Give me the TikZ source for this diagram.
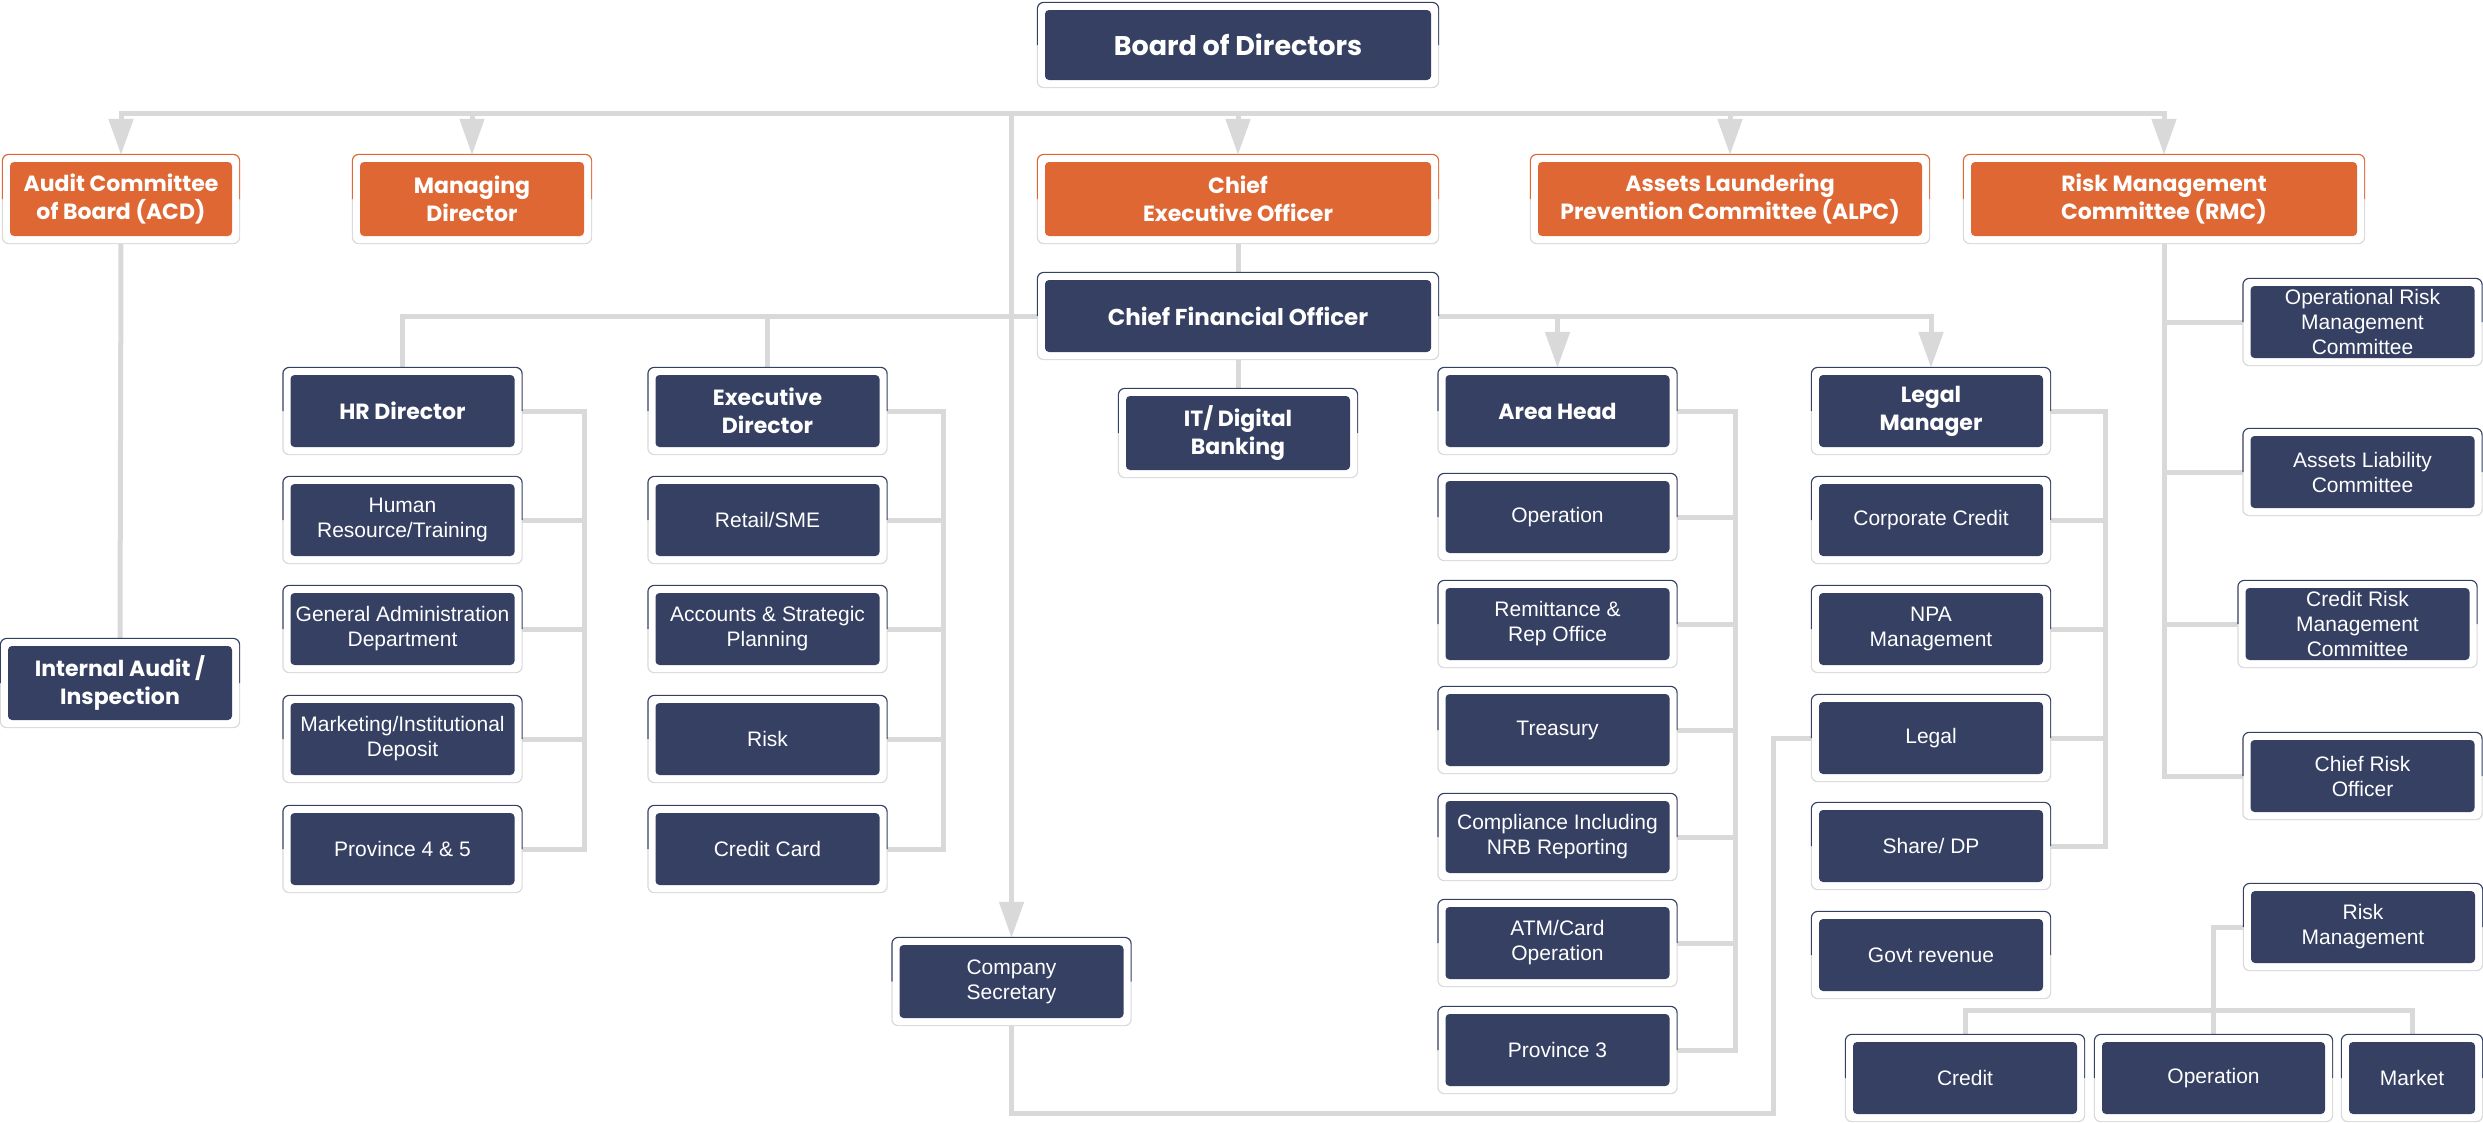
\documentclass[tikz,border=0pt]{standalone}
\usepackage{fontspec}
\newfontfamily\gothic{Poppins}
\newfontfamily\arial{Liberation Sans}
\usetikzlibrary{arrows.meta,backgrounds,calc}
\definecolor{navy}{HTML}{354062}
\definecolor{orng}{HTML}{DF6734}
\definecolor{lgray}{HTML}{D9D9D9}
\tikzset{
  orgbox/.style={rectangle, rounded corners=6pt, fill=white, inner sep=0pt, align=center, text=white,
    minimum width=238pt, minimum height=86pt,
    path picture={\fill[#1, rounded corners=4pt] ([shift={(7pt,7pt)}]path picture bounding box.south west) rectangle ([shift={(-7pt,-7pt)}]path picture bounding box.north east);},
    append after command={\pgfextra{
      \draw[lgray, line width=2pt, rounded corners=6pt] (\tikzlastnode.west) -- (\tikzlastnode.south west) -- (\tikzlastnode.south east) -- (\tikzlastnode.east);
      \draw[#1, line width=2pt, rounded corners=6pt] (\tikzlastnode.west) -- (\tikzlastnode.north west) -- (\tikzlastnode.north east) -- (\tikzlastnode.east);}}},
  nbox/.style={orgbox=navy},
  obox/.style={orgbox=orng},
  ttl/.style={font=\gothic\bfseries\fontsize{22}{28}\selectfont},
  big/.style={font=\gothic\bfseries\fontsize{27}{32}\selectfont},
  mid/.style={font=\gothic\bfseries\fontsize{23}{28}\selectfont},
  lbl/.style={font=\arial\fontsize{21}{25}\selectfont},
  conn/.style={draw=lgray, line width=5pt, line cap=rect},
  arr/.style={draw=lgray, line width=5pt, -{Triangle[length=36pt,width=24pt]}},
}
\begin{document}
\begin{tikzpicture}[x=1pt,y=-1pt]
\useasboundingbox (0,0) rectangle (2483,1122);
% top
\node[nbox,big,minimum width=400pt,minimum height=84pt] (bod) at (1238,45) {Board of Directors};
\node[obox,ttl,minimum width=236pt,minimum height=88pt] (acd) at (121,199) {Audit Committee\\of Board (ACD)};
\node[obox,ttl,minimum height=88pt] (md) at (472,199) {Managing\\Director};
\node[obox,ttl,minimum width=400pt,minimum height=88pt] (ceo) at (1238,199) {Chief\\Executive Officer};
\node[obox,ttl,minimum width=398pt,minimum height=88pt] (alpc) at (1730,199) {Assets Laundering\\Prevention Committee (ALPC)};
\node[obox,ttl,minimum width=400pt,minimum height=88pt] (rmc) at (2164,199) {Risk Management\\Committee (RMC)};
\node[nbox,ttl,minimum height=88pt] (ia) at (120,683) {Internal Audit /\\Inspection};
\node[nbox,mid,minimum width=400pt] (cfo) at (1238,316) {Chief Financial Officer};
\node[nbox,ttl,minimum height=88pt] (it) at (1238,433) {IT/ Digital\\Banking};
% HR column
\node[nbox,ttl] (hr) at (402.5,411) {HR Director};
\node[nbox,lbl] (hrt) at (402.5,520) {Human\\Resource/Training};
\node[nbox,lbl] (gad) at (402.5,629) {General Administration\\Department};
\node[nbox,lbl] (mkt) at (402.5,739) {Marketing/Institutional\\Deposit};
\node[nbox,lbl] (p45) at (402.5,849) {Province 4 \& 5};
% Exec column
\node[nbox,ttl] (exd) at (767.5,411) {Executive\\Director};
\node[nbox,lbl] (rsme) at (767.5,520) {Retail/SME};
\node[nbox,lbl] (asp) at (767.5,629) {Accounts \& Strategic\\Planning};
\node[nbox,lbl] (erisk) at (767.5,739) {Risk};
\node[nbox,lbl] (ccard) at (767.5,849) {Credit Card};
% Area column
\node[nbox,ttl] (ah) at (1557.5,411) {Area Head};
\node[nbox,lbl] (op) at (1557.5,517) {Operation};
\node[nbox,lbl] (rem) at (1557.5,624) {Remittance \&\\Rep Office};
\node[nbox,lbl] (tre) at (1557.5,730) {Treasury};
\node[nbox,lbl] (comp) at (1557.5,837) {Compliance Including\\NRB Reporting};
\node[nbox,lbl] (atm) at (1557.5,943) {ATM/Card\\Operation};
\node[nbox,lbl] (p3) at (1557.5,1050) {Province 3};
% Legal column
\node[nbox,ttl] (lgm) at (1931,411) {Legal\\Manager};
\node[nbox,lbl] (corp) at (1931,520) {Corporate Credit};
\node[nbox,lbl] (npa) at (1931,629) {NPA\\Management};
\node[nbox,lbl] (legal) at (1931,738) {Legal};
\node[nbox,lbl] (share) at (1931,846) {Share/ DP};
\node[nbox,lbl] (govt) at (1931,955) {Govt revenue};
% company secretary
\node[nbox,lbl,minimum height=87pt] (cs) at (1011.5,981.5) {Company\\Secretary};
% risk committees
\node[nbox,lbl] (orm) at (2362.5,322) {Operational Risk\\Management\\Committee};
\node[nbox,lbl] (alc) at (2362.5,472) {Assets Liability\\Committee};
\node[nbox,lbl] (crm) at (2357.5,624) {Credit Risk\\Management\\Committee};
\node[nbox,lbl] (cro) at (2362.5,776) {Chief Risk\\Officer};
\node[nbox,lbl] (rm) at (2363,927) {Risk\\Management};
\node[nbox,lbl] (rcr) at (1965,1078) {Credit};
\node[nbox,lbl,minimum width=237pt] (rop) at (2213.5,1078) {Operation};
\node[nbox,lbl,minimum width=140pt] (rmk) at (2412,1078) {Market};
% connectors
\begin{scope}[on background layer]
\fill[white] (0,0) rectangle (2483,1122);
\coordinate (bus) at (0,113);
\draw[conn] (acd.north |- bus) -- (rmc.north |- bus);
\foreach \n in {acd,md,ceo,alpc,rmc,cs} \draw[arr] (\n.north |- bus) -- (\n.north);
\draw[conn] (acd.south) -- (ia.north);
\draw[conn] (ceo.south) -- (cfo.north);
\draw[conn] (cfo.south) -- (it.north);
\draw[conn] (cfo.west) -| (hr.north);
\draw[conn] (exd.north |- cfo.west) -- (exd.north);
\draw[arr] (cfo.east) -| (lgm.north);
\draw[arr] (ah.north |- cfo.east) -- (ah.north);
% columns
\coordinate (hrv) at (584,0);
\coordinate (exv) at (943,0);
\coordinate (ahv) at (1735,0);
\coordinate (lgv) at (2105,0);
\foreach \n in {hr,hrt,gad,mkt,p45} \draw[conn] (\n.east) -- (\n.east -| hrv);
\draw[conn] (hr.east -| hrv) -- (p45.east -| hrv);
\foreach \n in {exd,rsme,asp,erisk,ccard} \draw[conn] (\n.east) -- (\n.east -| exv);
\draw[conn] (exd.east -| exv) -- (ccard.east -| exv);
\foreach \n in {ah,op,rem,tre,comp,atm,p3} \draw[conn] (\n.east) -- (\n.east -| ahv);
\draw[conn] (ah.east -| ahv) -- (p3.east -| ahv);
\foreach \n in {lgm,corp,npa,legal,share} \draw[conn] (\n.east) -- (\n.east -| lgv);
\draw[conn] (lgm.east -| lgv) -- (share.east -| lgv);
% company secretary to legal
\coordinate (csb) at (0,1113);
\coordinate (csx) at (1773,0);
\draw[conn] (cs.south) -- (cs.south |- csb) -- (csx |- csb) -- (csx |- legal.west) -- (legal.west);
% RMC
\draw[conn] (rmc.south) -- (rmc.south |- cro.west);
\foreach \n in {orm,alc,crm,cro} \draw[conn] (rmc.south |- \n.west) -- (\n.west);
% risk management
\coordinate (rbus) at (0,1010);
\draw[conn] (rm.west) -| (rop.north);
\draw[conn] (rcr.north |- rbus) -- (rmk.north |- rbus);
\draw[conn] (rcr.north |- rbus) -- (rcr.north);
\draw[conn] (rmk.north |- rbus) -- (rmk.north);
\end{scope}
\end{tikzpicture}
\end{document}
